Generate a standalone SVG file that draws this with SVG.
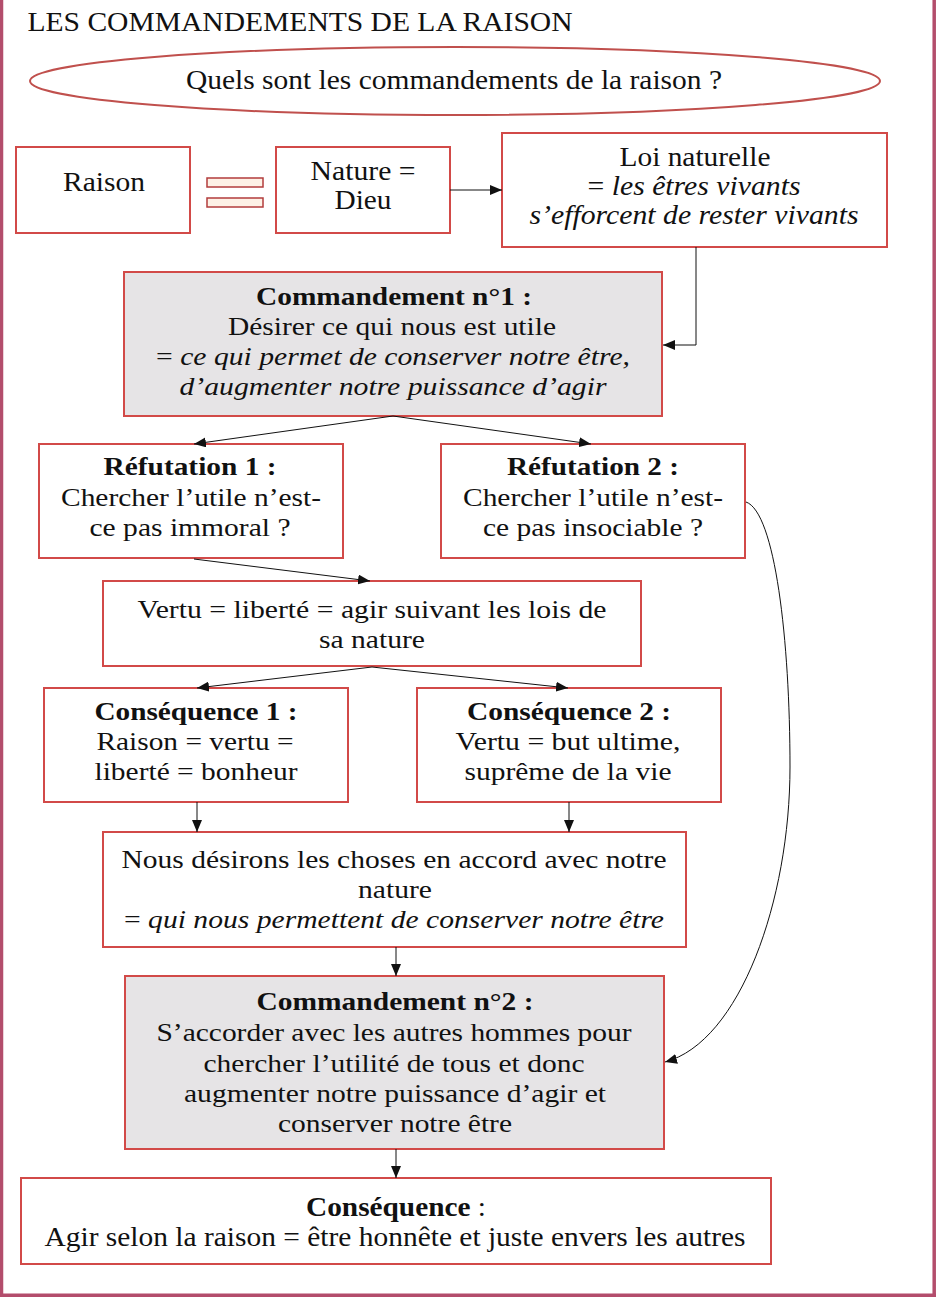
<svg xmlns="http://www.w3.org/2000/svg" width="936" height="1297" viewBox="0 0 936 1297">
<style>
text{font-family:"Liberation Serif","Times New Roman",serif;fill:#111;text-anchor:middle;}
.w{font-size:26px;}
.c{font-size:28px;}
.b{font-weight:bold;}
.i{font-style:italic;}
.box{fill:#fff;stroke:#d24a48;stroke-width:2;}
.gray{fill:#e6e4e6;stroke:#d24a48;stroke-width:2;}
.ln{fill:none;stroke:#111;stroke-width:1;}
.frame{stroke:#b34d6c;stroke-width:3.5;fill:none;}
</style>
<defs>
<marker id="ah" viewBox="0 0 12 10" refX="12" refY="5" markerWidth="12" markerHeight="10" markerUnits="userSpaceOnUse" orient="auto">
<path d="M0,0 L12,5 L0,10 z" fill="#111"/>
</marker>
</defs>
<rect width="936" height="1297" fill="#fff"/>
<g id="frame">
<line class="frame" x1="1.5" y1="0" x2="1.5" y2="1297"/>
<line class="frame" x1="934.2" y1="0" x2="934.2" y2="1297"/>
<line class="frame" x1="0" y1="1295.2" x2="936" y2="1295.2"/>
</g>
<g id="title">
<text x="300" y="31" class="c" textLength="545" lengthAdjust="spacingAndGlyphs">LES COMMANDEMENTS DE LA RAISON</text>
</g>
<g id="question">
<ellipse cx="455" cy="81" rx="425" ry="34" fill="#fff" stroke="#c0504d" stroke-width="2"/>
<text x="454" y="89" class="c" textLength="536" lengthAdjust="spacingAndGlyphs">Quels sont les commandements de la raison ?</text>
</g>
<g id="raison">
<rect class="box" x="16" y="147" width="174" height="86"/>
<text x="104" y="191" class="c" textLength="82" lengthAdjust="spacingAndGlyphs">Raison</text>
</g>
<g id="egal">
<rect x="207" y="178" width="56" height="9" fill="#fdf1e6" stroke="#b23c3c" stroke-width="1.5"/>
<rect x="207" y="198" width="56" height="9" fill="#fdf1e6" stroke="#b23c3c" stroke-width="1.5"/>
</g>
<g id="nature">
<rect class="box" x="276" y="147" width="174" height="86"/>
<text x="363" y="180" class="c" textLength="105" lengthAdjust="spacingAndGlyphs">Nature =</text>
<text x="363" y="209" class="c" textLength="57" lengthAdjust="spacingAndGlyphs">Dieu</text>
</g>
<g id="loi">
<rect class="box" x="502" y="133" width="385" height="114"/>
<text x="695" y="166" class="c" textLength="151" lengthAdjust="spacingAndGlyphs">Loi naturelle</text>
<text x="694" y="195" class="c" textLength="213" lengthAdjust="spacingAndGlyphs">= <tspan class="i">les êtres vivants</tspan></text>
<text x="694" y="224" class="c i" textLength="329" lengthAdjust="spacingAndGlyphs">s’efforcent de rester vivants</text>
</g>
<g id="cmd1">
<rect class="gray" x="124" y="272" width="538" height="144"/>
<text x="394" y="305" class="w b" textLength="276" lengthAdjust="spacingAndGlyphs">Commandement n°1 :</text>
<text x="392" y="335" class="w" textLength="328" lengthAdjust="spacingAndGlyphs">Désirer ce qui nous est utile</text>
<text x="393" y="365" class="w" textLength="474" lengthAdjust="spacingAndGlyphs">= <tspan class="i">ce qui permet de conserver notre être,</tspan></text>
<text x="393" y="395" class="w i" textLength="427" lengthAdjust="spacingAndGlyphs">d’augmenter notre puissance d’agir</text>
</g>
<g id="ref1">
<rect class="box" x="39" y="444" width="304" height="114"/>
<text x="190" y="475" class="w b" textLength="173" lengthAdjust="spacingAndGlyphs">Réfutation 1 :</text>
<text x="191" y="506" class="w" textLength="260" lengthAdjust="spacingAndGlyphs">Chercher l’utile n’est-</text>
<text x="190" y="536" class="w" textLength="201" lengthAdjust="spacingAndGlyphs">ce pas immoral ?</text>
</g>
<g id="ref2">
<rect class="box" x="441" y="444" width="304" height="114"/>
<text x="593" y="475" class="w b" textLength="172" lengthAdjust="spacingAndGlyphs">Réfutation 2 :</text>
<text x="593" y="506" class="w" textLength="260" lengthAdjust="spacingAndGlyphs">Chercher l’utile n’est-</text>
<text x="593" y="536" class="w" textLength="220" lengthAdjust="spacingAndGlyphs">ce pas insociable ?</text>
</g>
<g id="vertu">
<rect class="box" x="103" y="581" width="538" height="85"/>
<text x="372" y="618" class="w" textLength="469" lengthAdjust="spacingAndGlyphs">Vertu = liberté = agir suivant les lois de</text>
<text x="372" y="648" class="w" textLength="106" lengthAdjust="spacingAndGlyphs">sa nature</text>
</g>
<g id="cons1">
<rect class="box" x="44" y="688" width="304" height="114"/>
<text x="196" y="720" class="w b" textLength="203" lengthAdjust="spacingAndGlyphs">Conséquence 1 :</text>
<text x="195" y="750" class="w" textLength="197" lengthAdjust="spacingAndGlyphs">Raison = vertu =</text>
<text x="196" y="780" class="w" textLength="203" lengthAdjust="spacingAndGlyphs">liberté = bonheur</text>
</g>
<g id="cons2">
<rect class="box" x="417" y="688" width="304" height="114"/>
<text x="569" y="720" class="w b" textLength="204" lengthAdjust="spacingAndGlyphs">Conséquence 2 :</text>
<text x="568" y="750" class="w" textLength="225" lengthAdjust="spacingAndGlyphs">Vertu = but ultime,</text>
<text x="568" y="780" class="w" textLength="207" lengthAdjust="spacingAndGlyphs">suprême de la vie</text>
</g>
<g id="nous">
<rect class="box" x="103" y="832" width="583" height="115"/>
<text x="394" y="868" class="w" textLength="545" lengthAdjust="spacingAndGlyphs">Nous désirons les choses en accord avec notre</text>
<text x="395" y="898" class="w" textLength="74" lengthAdjust="spacingAndGlyphs">nature</text>
<text x="394" y="928" class="w" textLength="540" lengthAdjust="spacingAndGlyphs">= <tspan class="i">qui nous permettent de conserver notre être</tspan></text>
</g>
<g id="cmd2">
<rect class="gray" x="125" y="976" width="539" height="173"/>
<text x="395" y="1010" class="w b" textLength="277" lengthAdjust="spacingAndGlyphs">Commandement n°2 :</text>
<text x="394" y="1041" class="w" textLength="475" lengthAdjust="spacingAndGlyphs">S’accorder avec les autres hommes pour</text>
<text x="394" y="1072" class="w" textLength="381" lengthAdjust="spacingAndGlyphs">chercher l’utilité de tous et donc</text>
<text x="395" y="1102" class="w" textLength="422" lengthAdjust="spacingAndGlyphs">augmenter notre puissance d’agir et</text>
<text x="395" y="1132" class="w" textLength="234" lengthAdjust="spacingAndGlyphs">conserver notre être</text>
</g>
<g id="final">
<rect class="box" x="21" y="1178" width="750" height="86"/>
<text x="396" y="1216" class="c" textLength="180" lengthAdjust="spacingAndGlyphs"><tspan class="b">Conséquence</tspan> :</text>
<text x="395" y="1246" class="c" textLength="701" lengthAdjust="spacingAndGlyphs">Agir selon la raison = être honnête et juste envers les autres</text>
</g>
<g id="connectors">
<line class="ln" x1="450" y1="190" x2="502" y2="190" marker-end="url(#ah)"/>
<polyline class="ln" points="696,247 696,345 663,345" marker-end="url(#ah)"/>
<line class="ln" x1="393" y1="416" x2="194" y2="444" marker-end="url(#ah)"/>
<line class="ln" x1="393" y1="416" x2="591" y2="444" marker-end="url(#ah)"/>
<line class="ln" x1="194" y1="559" x2="370" y2="581" marker-end="url(#ah)"/>
<line class="ln" x1="372" y1="667" x2="197" y2="688" marker-end="url(#ah)"/>
<line class="ln" x1="372" y1="667" x2="568" y2="688" marker-end="url(#ah)"/>
<line class="ln" x1="197" y1="802" x2="197" y2="832" marker-end="url(#ah)"/>
<line class="ln" x1="569" y1="802" x2="569" y2="832" marker-end="url(#ah)"/>
<line class="ln" x1="396" y1="947" x2="396" y2="976" marker-end="url(#ah)"/>
<path class="ln" d="M746,502 C775,512 790,640 790,767 C790,900 740,1042 665,1062" marker-end="url(#ah)"/>
<line class="ln" x1="396" y1="1149" x2="396" y2="1178" marker-end="url(#ah)"/>
</g>
</svg>
